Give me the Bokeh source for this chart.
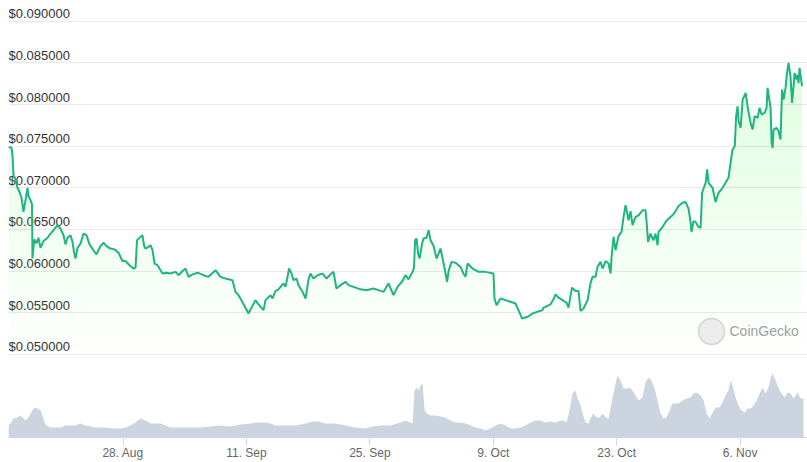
import numpy as np
from bokeh.plotting import figure
from bokeh.models import Range1d, FixedTicker
from bokeh.core.properties import value
from bokeh.embed import file_html
from bokeh.resources import INLINE

# ---- data (days since 15 Aug) ----
price_day = [0.00, 0.34, 0.45, 0.57, 0.80, 1.02, 1.25, 1.48, 1.70, 1.93, 2.16, 2.27, 2.50, 2.67, 2.72, 2.84, 2.95,
             3.18, 3.40, 3.63, 3.97, 4.43, 4.77, 5.11, 5.56, 5.90, 6.24, 6.47, 6.69, 7.03, 7.26, 7.43, 7.60, 7.83,
             8.17, 8.51, 8.85, 9.19, 9.64, 9.98, 10.44, 10.78, 11.12, 11.57, 12.03, 12.48, 12.93, 13.27, 13.73,
             14.18, 14.41, 14.58, 14.98, 15.20, 15.37, 15.54, 15.88, 16.11, 16.34, 16.57, 16.91, 17.13, 17.47,
             17.93, 18.38, 18.95, 19.29, 19.75, 20.09, 20.42, 20.88, 21.45, 22.13, 22.69, 23.49, 24.05, 24.62,
             25.41, 25.75, 26.09, 26.32, 27.23, 28.02, 28.36, 28.93, 29.16, 29.73, 29.95, 30.29, 30.63, 30.86,
             31.20, 31.43, 31.66, 31.83, 32.11, 32.34, 32.68, 32.90, 33.36, 33.70, 34.04, 34.26, 34.60, 35.06,
             35.63, 36.08, 36.53, 36.87, 37.21, 37.67, 38.24, 38.58, 39.14, 39.94, 40.62, 41.41, 41.98, 42.55,
             43.11, 43.68, 44.14, 44.70, 45.05, 45.39, 45.84, 46.01, 46.13, 46.30, 46.47, 46.64, 46.92, 47.09,
             47.43, 47.66, 47.89, 48.23, 48.57, 49.02, 49.25, 49.48, 49.76, 49.93, 50.27, 50.72, 51.28, 51.62,
             51.85, 52.08, 52.65, 53.33, 54.12, 55.02, 55.14, 55.37, 55.82, 56.39, 56.96, 57.52, 57.86, 58.26,
             58.89, 59.45, 60.02, 60.59, 60.70, 61.15, 61.49, 61.83, 62.06, 62.40, 62.86, 63.31, 63.54, 63.93,
             64.33, 64.67, 64.90, 65.24, 65.70, 66.03, 66.26, 66.60, 66.83, 67.17, 67.40, 67.74, 68.08, 68.31,
             68.42, 68.65, 68.87, 69.21, 69.55, 69.78, 70.01, 70.35, 70.58, 70.80, 71.14, 71.48, 71.94, 72.28,
             72.39, 72.56, 72.84, 73.18, 73.41, 73.64, 73.75, 74.21, 74.55, 74.89, 75.34, 75.68, 76.02, 76.47,
             76.81, 77.15, 77.38, 77.49, 77.72, 77.95, 78.29, 78.52, 78.69, 79.09, 79.26, 79.43, 79.88, 80.22,
             80.56, 81.01, 81.35, 81.69, 81.92, 82.15, 82.40, 82.55, 82.72, 82.83, 83.06, 83.29, 83.63, 83.85,
             84.19, 84.42, 84.65, 84.99, 85.21, 85.44, 85.78, 86.01, 86.12, 86.46, 86.58, 86.69, 86.80, 87.14,
             87.37, 87.59, 87.76, 87.93, 88.16, 88.33, 88.50, 88.72, 88.90, 89.07, 89.18, 89.41, 89.52, 89.63,
             89.75, 90.03]
price_usd = [0.0749, 0.0748, 0.0740, 0.0715, 0.0710, 0.0700, 0.0695, 0.0688, 0.0671, 0.0685, 0.0700, 0.0690, 0.0685,
             0.0680, 0.0615, 0.0630, 0.0638, 0.0633, 0.0640, 0.0628, 0.0636, 0.0640, 0.0645, 0.0649, 0.0655, 0.0651,
             0.0643, 0.0632, 0.0640, 0.0643, 0.0635, 0.0623, 0.0615, 0.0628, 0.0633, 0.0645, 0.0643, 0.0632, 0.0625,
             0.0620, 0.0630, 0.0634, 0.0630, 0.0627, 0.0626, 0.0622, 0.0612, 0.0612, 0.0607, 0.0603, 0.0604, 0.0637,
             0.0641, 0.0643, 0.0631, 0.0627, 0.0629, 0.0631, 0.0625, 0.0609, 0.0607, 0.0603, 0.0597, 0.0598, 0.0597,
             0.0599, 0.0595, 0.0600, 0.0603, 0.0593, 0.0596, 0.0598, 0.0595, 0.0593, 0.0601, 0.0593, 0.0591, 0.0589,
             0.0575, 0.0571, 0.0567, 0.0549, 0.0565, 0.0560, 0.0553, 0.0565, 0.0571, 0.0567, 0.0576, 0.0578, 0.0581,
             0.0585, 0.0581, 0.0593, 0.0603, 0.0597, 0.0589, 0.0591, 0.0583, 0.0575, 0.0567, 0.0590, 0.0597, 0.0591,
             0.0595, 0.0597, 0.0591, 0.0596, 0.0599, 0.0579, 0.0583, 0.0587, 0.0583, 0.0581, 0.0578, 0.0577, 0.0579,
             0.0577, 0.0575, 0.0585, 0.0571, 0.0581, 0.0588, 0.0595, 0.0590, 0.0599, 0.0604, 0.0637, 0.0639, 0.0621,
             0.0615, 0.0633, 0.0639, 0.0640, 0.0649, 0.0637, 0.0630, 0.0615, 0.0627, 0.0615, 0.0603, 0.0587, 0.0600,
             0.0611, 0.0610, 0.0605, 0.0597, 0.0593, 0.0609, 0.0603, 0.0599, 0.0599, 0.0597, 0.0567, 0.0559, 0.0567,
             0.0565, 0.0563, 0.0561, 0.0553, 0.0543, 0.0545, 0.0549, 0.0551, 0.0553, 0.0556, 0.0558, 0.0560, 0.0566,
             0.0572, 0.0568, 0.0565, 0.0562, 0.0556, 0.0580, 0.0576, 0.0576, 0.0552, 0.0555, 0.0565, 0.0585, 0.0593,
             0.0593, 0.0605, 0.0611, 0.0603, 0.0612, 0.0609, 0.0597, 0.0617, 0.0641, 0.0625, 0.0642, 0.0647, 0.0665,
             0.0679, 0.0661, 0.0672, 0.0655, 0.0665, 0.0667, 0.0673, 0.0673, 0.0660, 0.0635, 0.0645, 0.0637, 0.0645,
             0.0631, 0.0647, 0.0653, 0.0659, 0.0663, 0.0667, 0.0672, 0.0678, 0.0682, 0.0683, 0.0675, 0.0659, 0.0647,
             0.0660, 0.0659, 0.0653, 0.0652, 0.0694, 0.0706, 0.0722, 0.0706, 0.0700, 0.0683, 0.0694, 0.0700, 0.0706,
             0.0712, 0.0730, 0.0746, 0.0750, 0.0786, 0.0798, 0.0780, 0.0772, 0.0806, 0.0814, 0.0798, 0.0778, 0.0770,
             0.0786, 0.0784, 0.0796, 0.0788, 0.0790, 0.0796, 0.0820, 0.0796, 0.0754, 0.0748, 0.0770, 0.0772, 0.0768,
             0.0758, 0.0818, 0.0806, 0.0820, 0.0838, 0.0850, 0.0834, 0.0802, 0.0822, 0.0838, 0.0830, 0.0836, 0.0826,
             0.0844, 0.0822]

volume_day = [0.00, 0.23, 0.57, 1.02, 1.36, 1.70, 1.93, 2.27, 2.50, 2.84, 3.06, 3.29, 3.63, 3.86, 4.08, 4.31, 4.77,
              5.90, 6.47, 7.60, 8.17, 8.74, 9.87, 11.01, 12.14, 12.71, 13.27, 13.84, 14.41, 14.98, 15.54, 16.11,
              16.68, 17.25, 17.81, 18.38, 19.52, 20.65, 21.78, 22.92, 24.05, 25.19, 26.32, 27.46, 28.02, 29.16,
              29.73, 30.29, 31.43, 32.56, 33.70, 34.49, 35.17, 35.97, 37.10, 38.24, 39.37, 40.51, 41.30, 42.21,
              43.34, 44.48, 45.05, 45.84, 46.07, 46.30, 46.53, 46.75, 46.98, 47.21, 47.43, 47.89, 48.46, 49.02,
              49.59, 50.15, 50.72, 51.28, 51.85, 52.42, 52.98, 53.55, 54.12, 54.69, 55.25, 55.82, 56.39, 56.96,
              57.52, 58.09, 58.66, 59.23, 59.79, 60.36, 60.93, 61.49, 62.06, 62.63, 62.97, 63.31, 63.65, 63.99,
              64.33, 64.56, 64.91, 65.13, 65.47, 65.81, 66.03, 66.37, 66.71, 67.05, 67.40, 67.74, 68.08, 68.53,
              68.87, 69.10, 69.44, 69.78, 70.12, 70.46, 70.80, 71.14, 71.48, 71.93, 72.27, 72.61, 72.95, 73.30,
              73.64, 73.98, 74.32, 74.66, 75.00, 75.34, 75.68, 76.02, 76.47, 76.93, 77.38, 77.72, 78.06, 78.52,
              78.86, 79.20, 79.54, 79.88, 80.22, 80.67, 81.01, 81.35, 81.69, 81.92, 82.15, 82.49, 82.83, 83.17,
              83.51, 83.85, 84.19, 84.53, 84.87, 85.21, 85.55, 85.89, 86.23, 86.46, 86.68, 87.02, 87.36, 87.70,
              88.05, 88.39, 88.72, 89.07, 89.52, 89.86, 90.20]
volume_musd = [0.60, 0.70, 0.95, 1.00, 1.10, 0.95, 0.85, 1.00, 1.20, 1.45, 1.50, 1.45, 1.35, 1.10, 0.75, 0.60, 0.50,
               0.50, 0.60, 0.60, 0.70, 0.60, 0.50, 0.50, 0.45, 0.45, 0.50, 0.60, 0.75, 0.95, 0.85, 0.70, 0.70, 0.70,
               0.60, 0.50, 0.50, 0.50, 0.50, 0.55, 0.60, 0.55, 0.65, 0.70, 0.75, 0.75, 0.70, 0.60, 0.60, 0.60, 0.70,
               0.80, 0.80, 0.70, 0.70, 0.60, 0.50, 0.45, 0.55, 0.60, 0.60, 0.75, 0.85, 0.70, 2.35, 2.50, 2.35, 2.60,
               2.70, 1.35, 1.20, 1.10, 1.10, 1.05, 1.00, 0.85, 0.75, 0.75, 0.70, 0.60, 0.50, 0.45, 0.35, 0.45, 0.60,
               0.70, 0.60, 0.45, 0.45, 0.50, 0.60, 0.75, 0.85, 0.85, 0.75, 0.80, 0.75, 0.85, 0.85, 0.75, 1.35, 2.20,
               2.35, 1.95, 1.60, 1.20, 0.75, 0.70, 0.95, 1.20, 1.00, 1.00, 1.20, 1.00, 0.95, 2.00, 2.70, 3.10, 2.85,
               2.45, 2.45, 2.50, 2.35, 2.10, 1.85, 2.00, 2.75, 3.00, 2.85, 2.45, 1.85, 1.20, 0.95, 1.00, 1.35, 1.70,
               1.70, 1.70, 1.85, 1.95, 2.00, 2.20, 2.25, 2.10, 1.85, 1.20, 0.95, 1.25, 1.50, 1.50, 1.75, 2.10, 2.35,
               2.85, 2.60, 2.00, 1.60, 1.35, 1.25, 1.45, 1.45, 1.60, 1.85, 2.20, 2.50, 2.20, 2.50, 2.95, 3.20, 2.85,
               2.50, 2.20, 2.00, 2.25, 2.20, 1.95, 2.25, 1.95, 1.95]

y_ticks = [0.050, 0.055, 0.060, 0.065, 0.070, 0.075, 0.080, 0.085, 0.090]
y_tick_labels = ["$0.050000", "$0.055000", "$0.060000", "$0.065000", "$0.070000",
                 "$0.075000", "$0.080000", "$0.085000", "$0.090000"]
x_tick_days = [13, 27, 41, 55, 69, 83]
x_tick_labels = ["28. Aug", "11. Sep", "25. Sep", "9. Oct", "23. Oct", "6. Nov"]

FONT = "Liberation Sans"
LINE = "#1fb57f"
FILL = "#8dc647"

p = figure(frame_width=799, frame_height=437,
           x_range=Range1d(0, 90.65), y_range=Range1d(0.04, 0.0925),
           output_backend="svg", toolbar_location=None,
           y_axis_location=None, x_axis_location="below",
           min_border_left=8, min_border_right=0, min_border_top=0, min_border_bottom=0)
p.outline_line_color = None
p.background_fill_color = "white"
p.border_fill_color = "white"
p.extra_y_ranges = {"volume": Range1d(0, 21.85)}

p.xgrid.visible = False
p.ygrid.ticker = FixedTicker(ticks=y_ticks)
p.ygrid.grid_line_color = "#e9e9e9"
p.ygrid.grid_line_width = 1

# y labels
p.text(x=[price_day[0]] * len(y_ticks), y=y_ticks, text=y_tick_labels,
       text_align="left", text_baseline="bottom",
       text_font=value(FONT), text_font_size="13px", text_color="#333333", y_offset=0)

# gradient area under price
price = np.array(price_usd)
pane_bottom = 0.0497
levels = np.linspace(pane_bottom, 0.0925, 40)
alpha = 1 - 0.7 ** (1 / len(levels))
for L in levels:
    p.varea(x=price_day, y1=np.minimum(L, price), y2=price,
            fill_color=FILL, fill_alpha=alpha)

# volume
p.varea(x=volume_day, y1=0, y2=volume_musd, y_range_name="volume", fill_color="#ccd4df")

# price line
p.line(price_day, price_usd, line_color=LINE, line_width=2)

# watermark
p.scatter(x=[79.76], y=[0.05274], size=26, fill_color="#ececec", line_color="#d4d4d4", line_width=1.5)
p.text(x=[81.8], y=[0.05274], text=["CoinGecko"], text_align="left", text_baseline="middle",
       text_font=value(FONT), text_font_size="14px", text_color="#a0a0a0")

ax = p.xaxis[0]
ax.ticker = FixedTicker(ticks=x_tick_days)
ax.major_label_overrides = dict(zip(x_tick_days, x_tick_labels))
ax.major_tick_out = 8
ax.major_tick_in = 0
ax.minor_tick_line_color = None
ax.major_tick_line_color = "#ccd6eb"
ax.axis_line_color = "#ccd6eb"
ax.major_label_standoff = 0
ax.major_label_text_font = FONT
ax.major_label_text_font_size = "12px"
ax.major_label_text_color = "#666666"

open("out.html", "w").write(file_html(p, INLINE))
